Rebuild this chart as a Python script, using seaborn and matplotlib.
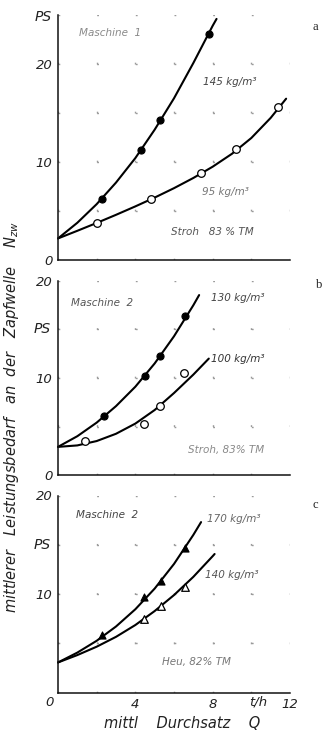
import numpy as np
import pandas as pd
import matplotlib
matplotlib.use("Agg")
import matplotlib.pyplot as plt
import seaborn as sns

# ---------------- data ----------------
# Panel a : Maschine 1, Stroh 83 % TM
a_hi_curve_x = [0, 1, 2, 3, 4, 5, 6, 7, 8, 8.2]
a_hi_curve_y = [2.2, 3.8, 5.7, 7.9, 10.4, 13.3, 16.5, 20.1, 23.9, 24.6]
a_hi_pts_x = [2.3, 4.3, 5.3, 7.8]
a_hi_pts_y = [6.2, 11.2, 14.3, 23.1]
a_lo_curve_x = [0, 1, 2, 3, 4, 5, 6, 7, 8, 9, 10, 11, 11.8]
a_lo_curve_y = [2.2, 2.98, 3.78, 4.61, 5.47, 6.37, 7.33, 8.37, 9.52, 10.84, 12.45, 14.5, 16.46]
a_lo_pts_x = [2.0, 4.8, 7.4, 9.2, 11.4]
a_lo_pts_y = [3.8, 6.2, 8.9, 11.3, 15.6]

# Panel b : Maschine 2, Stroh 83 % TM
b_hi_curve_x = [0, 1, 2, 3, 4, 5, 6, 7, 7.3]
b_hi_curve_y = [2.9, 4.0, 5.4, 7.1, 9.1, 11.5, 14.3, 17.5, 18.55]
b_hi_pts_x = [2.4, 4.5, 5.3, 6.55]
b_hi_pts_y = [6.1, 10.2, 12.3, 16.4]
b_lo_curve_x = [0, 1, 2, 3, 4, 5, 6, 7, 7.8]
b_lo_curve_y = [2.9, 3.05, 3.5, 4.25, 5.3, 6.7, 8.45, 10.35, 12.0]
b_lo_pts_x = [1.4, 4.45, 5.3, 6.5]
b_lo_pts_y = [3.5, 5.3, 7.1, 10.5]

# Panel c : Maschine 2, Heu 82 % TM
c_hi_curve_x = [0, 1, 2, 3, 4, 5, 6, 7, 7.4]
c_hi_curve_y = [3.05, 4.05, 5.25, 6.7, 8.45, 10.55, 13.05, 16.0, 17.3]
c_hi_pts_x = [2.3, 4.45, 5.35, 6.55]
c_hi_pts_y = [5.8, 9.7, 11.35, 14.7]
c_lo_curve_x = [0, 1, 2, 3, 4, 5, 6, 7, 8, 8.1]
c_lo_curve_y = [3.05, 3.8, 4.65, 5.65, 6.85, 8.27, 9.89, 11.74, 13.84, 14.06]
c_lo_pts_x = [4.45, 5.35, 6.55]
c_lo_pts_y = [7.5, 8.8, 10.7]

panel_letters = ["a", "b", "c"]
machine_labels = ["Maschine  1", "Maschine  2", "Maschine  2"]
hi_labels = ["145 kg/m³", "130 kg/m³", "170 kg/m³"]
lo_labels = ["95 kg/m³", "100 kg/m³", "140 kg/m³"]
material_labels = ["Stroh   83 % TM", "Stroh, 83% TM", "Heu, 82% TM"]
y_tick_labels = ["0", "10", "20"]
x_tick_labels = ["4", "8", "12"]
x_unit_label = "t/h"
x_title = "mittl    Durchsatz    Q"
y_title = "mittlerer   Leistungsbedarf   an  der   Zapfwelle    $N_{zw}$"

# ---------------- style ----------------
sns.set_style("white")
plt.rcParams["font.family"] = ["DejaVu Sans"]
plt.rcParams["font.style"] = "italic"
plt.rcParams["mathtext.default"] = "it"

W, H = 324, 731
fig = plt.figure(figsize=(W / 100, H / 100), dpi=100)

# axes boxes in pixels: (left, top, right, bottom)
boxes = [(58, 15, 290, 260), (58, 281, 290, 475), (58, 495.5, 290, 692.5)]
ymaxes = [25, 20, 20]

panels = [
    dict(hc=(a_hi_curve_x, a_hi_curve_y), hp=(a_hi_pts_x, a_hi_pts_y),
         lc=(a_lo_curve_x, a_lo_curve_y), lp=(a_lo_pts_x, a_lo_pts_y), marker="o"),
    dict(hc=(b_hi_curve_x, b_hi_curve_y), hp=(b_hi_pts_x, b_hi_pts_y),
         lc=(b_lo_curve_x, b_lo_curve_y), lp=(b_lo_pts_x, b_lo_pts_y), marker="o"),
    dict(hc=(c_hi_curve_x, c_hi_curve_y), hp=(c_hi_pts_x, c_hi_pts_y),
         lc=(c_lo_curve_x, c_lo_curve_y), lp=(c_lo_pts_x, c_lo_pts_y), marker="^"),
]

# label positions (data coords) and grey levels
machine_pos = [(1.1, 23.2), (0.67, 17.7), (0.93, 18.0)]
hi_pos = [(7.5, 18.2), (7.9, 18.2), (7.7, 17.6)]
lo_pos = [(7.45, 6.9), (7.9, 12.0), (7.6, 11.9)]
mat_pos = [(5.85, 2.9), (6.7, 2.6), (5.4, 3.1)]
letter_pos = [(13.3, 23.8), (13.5, 19.6), (13.3, 19.0)]
ps_pos = [(-0.75, 24.8), (-0.83, 15.0), (-0.83, 15.0)]
machine_col = ["#8a8a8a", "#555555", "#444444"]
hi_col = ["#444444", "#444444", "#666666"]
lo_col = ["#777777", "#333333", "#555555"]
mat_col = ["#555555", "#8a8a8a", "#777777"]

axes = []
for i, (box, ymax, p) in enumerate(zip(boxes, ymaxes, panels)):
    l, t, r, b = box
    ax = fig.add_axes([l / W, 1 - b / H, (r - l) / W, (b - t) / H])
    axes.append(ax)

    # curves
    for cx, cy in (p["hc"], p["lc"]):
        sns.lineplot(x=cx, y=cy, ax=ax, color="black", linewidth=1.5,
                     sort=False, estimator=None, clip_on=False)
    # filled markers (higher density)
    sns.scatterplot(x=p["hp"][0], y=p["hp"][1], ax=ax, marker=p["marker"], s=26,
                    color="black", edgecolor="black", linewidth=0.8, zorder=4, clip_on=False)
    # open markers (lower density)
    sns.scatterplot(x=p["lp"][0], y=p["lp"][1], ax=ax, marker=p["marker"], s=30,
                    color="white", edgecolor="black", linewidth=0.9, zorder=4, clip_on=False)

    ax.set_xlim(0, 12)
    ax.set_ylim(0, ymax)
    ax.set_xticks(np.arange(0, 13, 2))
    ax.set_yticks(np.arange(0, ymax + 0.1, 5))
    ax.set_xticklabels([])
    ylabs = []
    for v in np.arange(0, ymax + 0.1, 5):
        s = str(int(v))
        if s in y_tick_labels and not (i == 2 and s == "0"):
            ylabs.append(s)
        else:
            ylabs.append("")
    ax.set_yticklabels(ylabs, fontsize=9.5, color="#222222")
    ax.tick_params(axis="both", length=0, pad=4)
    ax.set_xlabel("")
    ax.set_ylabel("")

    for side in ("top", "right"):
        ax.spines[side].set_visible(False)
    for side in ("left", "bottom"):
        ax.spines[side].set_color("#111111")
        ax.spines[side].set_linewidth(1.1)

    # sparse dotted grid (dots at grid intersections)
    ax.grid(True, color="#9a9a9a", linewidth=1.0)
    ax_h_px = b - t
    ax_w_px = r - l
    pt_per_y = ax_h_px / ymax * 0.72
    pt_per_x = ax_w_px / 12 * 0.72
    per_v = 5 * pt_per_y
    per_h = 2 * pt_per_x
    for gl in ax.get_xgridlines():
        gl.set_linestyle((0, (1.3, per_v - 1.3)))
    for gl in ax.get_ygridlines():
        gl.set_linestyle((0, (1.3, per_h - 1.3)))
    ax.set_axisbelow(True)

    # annotations
    ax.text(*machine_pos[i], machine_labels[i], fontsize=7.5, color=machine_col[i],
            va="center", ha="left")
    ax.text(*hi_pos[i], hi_labels[i], fontsize=7.5, color=hi_col[i], va="center", ha="left")
    ax.text(*lo_pos[i], lo_labels[i], fontsize=7.5, color=lo_col[i], va="center", ha="left")
    ax.text(*mat_pos[i], material_labels[i], fontsize=7.5, color=mat_col[i],
            va="center", ha="left")
    ax.text(*letter_pos[i], panel_letters[i], fontsize=9, color="#222222",
            family="Liberation Serif", style="normal", va="center", ha="center", clip_on=False)
    ax.text(*ps_pos[i], "PS", fontsize=10, color="#222222", va="center", ha="center",
            clip_on=False)

# x tick labels only on the bottom panel
axc = axes[2]
axc.set_xticklabels(["", "", x_tick_labels[0], "", x_tick_labels[1], "", x_tick_labels[2]],
                    fontsize=9.5, color="#222222")
axc.tick_params(axis="x", pad=4)
axc.text(-0.42, -1.0, "0", fontsize=9.5, color="#222222", va="center", ha="center",
         clip_on=False)
axc.text(10.36, -1.0, x_unit_label, fontsize=9.5, color="#222222", va="center", ha="center",
         clip_on=False)

fig.text(182 / W, 1 - 723 / H, x_title, fontsize=10.5, color="#222222", ha="center", va="center")
fig.text(12 / W, 1 - 417 / H, y_title, fontsize=10.5, color="#222222", ha="center",
         va="center", rotation=90)

fig.savefig("out.png", dpi=100)
